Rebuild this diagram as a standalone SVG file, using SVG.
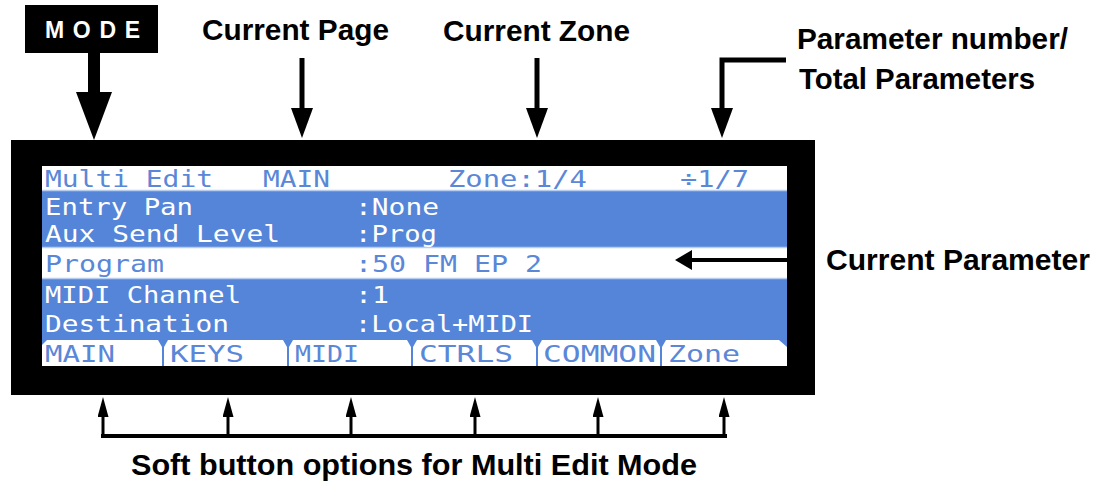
<svg xmlns="http://www.w3.org/2000/svg" width="1103" height="483" viewBox="0 0 1103 483">
<style>
.lbl{font-family:"Liberation Sans","Open Sans",Arial,sans-serif;font-weight:bold;font-size:30px;fill:#000}
.lcd{font-family:"DejaVu Sans Mono","Liberation Mono",monospace;font-size:23px}
.on-w{fill:#5a87d8}
.on-b{fill:#ffffff}
.blue{fill:#5585d8}
.sep{stroke:#b6cdf0;stroke-width:1.5}
.con{fill:none;stroke:#000}
</style>
<defs>
<marker id="hBig" viewBox="0 -18 48 36" refX="0" refY="0" markerWidth="48" markerHeight="36" markerUnits="userSpaceOnUse" orient="auto"><path d="M0,-18 L48,0 L0,18z" fill="#000"/></marker>
<marker id="hMed" viewBox="0 -11 30 22" refX="0" refY="0" markerWidth="30" markerHeight="22" markerUnits="userSpaceOnUse" orient="auto"><path d="M0,-11 L30,0 L0,11z" fill="#000"/></marker>
<marker id="hSide" viewBox="0 -10 17 20" refX="0" refY="0" markerWidth="17" markerHeight="20" markerUnits="userSpaceOnUse" orient="auto"><path d="M0,-10 L17,0 L0,10z" fill="#000"/></marker>
<marker id="hSm" viewBox="0 -5.5 20 11" refX="0" refY="0" markerWidth="20" markerHeight="11" markerUnits="userSpaceOnUse" orient="auto"><path d="M0,-5.5 L20,0 L0,5.5z" fill="#000"/></marker>
</defs>

<g id="display">
<rect x="11" y="140" width="804" height="255" fill="#000"/>
<rect x="42" y="166" width="745" height="200" fill="#fff"/>
<rect x="42" y="191" width="745" height="56" class="blue"/>
<rect x="42" y="279" width="745" height="61" class="blue"/>
<line x1="42" y1="190.5" x2="787" y2="190.5" class="sep"/>
<line x1="42" y1="247.5" x2="787" y2="247.5" class="sep"/>
<line x1="42" y1="278.5" x2="787" y2="278.5" class="sep"/>
<g class="blue">
<path d="M42,340 L47,340 L42,345z"/>
<path d="M158,340 L168,340 L164,347 L164,366 L162,366 L162,347z"/>
<path d="M283,340 L293,340 L289,347 L289,366 L287,366 L287,347z"/>
<path d="M407,340 L417,340 L413,347 L413,366 L411,366 L411,347z"/>
<path d="M532,340 L542,340 L538,347 L538,366 L536,366 L536,347z"/>
<path d="M656,340 L666,340 L662,347 L662,366 L660,366 L660,347z"/>
<path d="M779,340 L787,340 L787,347z"/>
</g>
<g class="lcd on-w">
<text x="45" y="187" textLength="168" lengthAdjust="spacingAndGlyphs">Multi Edit</text>
<text x="263" y="187" textLength="67" lengthAdjust="spacingAndGlyphs">MAIN</text>
<text x="448" y="187" textLength="139" lengthAdjust="spacingAndGlyphs">Zone:1/4</text>
<text x="680" y="187" textLength="69" lengthAdjust="spacingAndGlyphs">÷1/7</text>
<text x="45" y="272" textLength="119" lengthAdjust="spacingAndGlyphs">Program</text>
<text x="355" y="272" textLength="187" lengthAdjust="spacingAndGlyphs">:50 FM EP 2</text>
<text x="45" y="362" textLength="70" lengthAdjust="spacingAndGlyphs">MAIN</text>
<text x="170" y="362" textLength="74" lengthAdjust="spacingAndGlyphs">KEYS</text>
<text x="295" y="362" textLength="64" lengthAdjust="spacingAndGlyphs">MIDI</text>
<text x="419" y="362" textLength="94" lengthAdjust="spacingAndGlyphs">CTRLS</text>
<text x="543" y="362" textLength="113" lengthAdjust="spacingAndGlyphs">COMMON</text>
<text x="668" y="362" textLength="72" lengthAdjust="spacingAndGlyphs">Zone</text>
</g>
<g class="lcd on-b">
<text x="45" y="215" textLength="148" lengthAdjust="spacingAndGlyphs">Entry Pan</text>
<text x="355" y="215" textLength="84" lengthAdjust="spacingAndGlyphs">:None</text>
<text x="45" y="242" textLength="235" lengthAdjust="spacingAndGlyphs">Aux Send Level</text>
<text x="355" y="242" textLength="82" lengthAdjust="spacingAndGlyphs">:Prog</text>
<text x="45" y="303" textLength="196" lengthAdjust="spacingAndGlyphs">MIDI Channel</text>
<text x="355" y="303" textLength="34" lengthAdjust="spacingAndGlyphs">:1</text>
<text x="45" y="332" textLength="184" lengthAdjust="spacingAndGlyphs">Destination</text>
<text x="355" y="332" textLength="178" lengthAdjust="spacingAndGlyphs">:Local+MIDI</text>
</g>
</g>

<g id="mode-label">
<rect x="25" y="5" width="133" height="48" fill="#000"/>
<text x="45" y="38" font-family="Liberation Sans, Arial, sans-serif" font-weight="bold" font-size="23" fill="#fff" textLength="95" lengthAdjust="spacing">MODE</text>
</g>
<g id="current-page-label"><text class="lbl" x="202" y="40" textLength="187" lengthAdjust="spacingAndGlyphs">Current Page</text></g>
<g id="current-zone-label"><text class="lbl" x="443" y="41" textLength="187" lengthAdjust="spacingAndGlyphs">Current Zone</text></g>
<g id="param-number-label">
<text class="lbl" x="797" y="49" textLength="271" lengthAdjust="spacingAndGlyphs">Parameter number/</text>
<text class="lbl" x="799" y="89" textLength="236" lengthAdjust="spacingAndGlyphs">Total Parameters</text>
</g>
<g id="current-parameter-label"><text class="lbl" x="826" y="270" textLength="264" lengthAdjust="spacingAndGlyphs">Current Parameter</text></g>
<g id="soft-button-label"><text class="lbl" x="131" y="475" textLength="566" lengthAdjust="spacingAndGlyphs">Soft button options for Multi Edit Mode</text></g>

<g id="connectors">
<path class="con" d="M94,53 V92" stroke-width="12" marker-end="url(#hBig)"/>
<path class="con" d="M302,58 V108" stroke-width="5" marker-end="url(#hMed)"/>
<path class="con" d="M537,58 V108" stroke-width="5" marker-end="url(#hMed)"/>
<path class="con" d="M786,60 H722 V108" stroke-width="5" marker-end="url(#hMed)"/>
<path class="con" d="M787,260 H692" stroke-width="4" marker-end="url(#hSide)"/>
<path class="con" d="M101,436 H727" stroke-width="4"/>
<g stroke-width="3">
<path class="con" d="M103,436 V417" marker-end="url(#hSm)"/>
<path class="con" d="M228,436 V417" marker-end="url(#hSm)"/>
<path class="con" d="M351,436 V417" marker-end="url(#hSm)"/>
<path class="con" d="M475,436 V417" marker-end="url(#hSm)"/>
<path class="con" d="M598,436 V417" marker-end="url(#hSm)"/>
<path class="con" d="M724,436 V417" marker-end="url(#hSm)"/>
</g>
</g>
</svg>
